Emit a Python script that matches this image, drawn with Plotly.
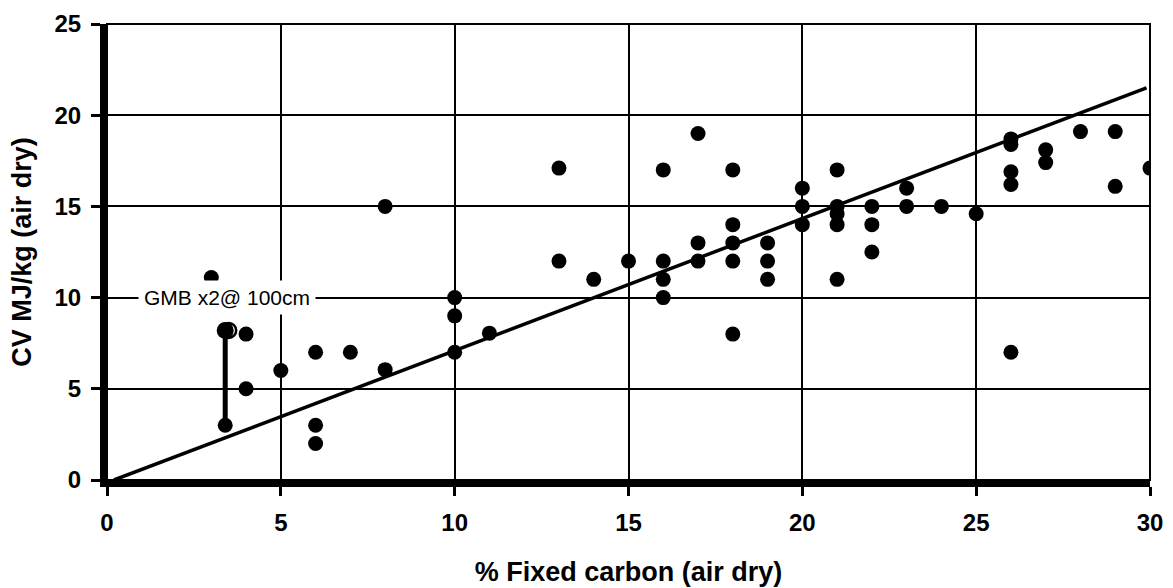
import plotly.graph_objects as go

# ---- data ----
fixed_carbon = [3.0, 3.4, 3.4, 4, 4, 5, 6, 6, 6, 7, 8, 8, 10, 10, 10, 11,
                13, 13, 14, 15, 16, 16, 16, 16, 17, 17, 17,
                18, 18, 18, 18, 18, 19, 19, 19, 20, 20, 20,
                21, 21, 21, 21, 21, 22, 22, 22, 23, 23, 24, 25,
                26, 26, 26, 26, 26, 27, 27, 28, 29, 29, 30]
cv_value = [11.1, 8.2, 3.0, 8.0, 5.0, 6.0, 7.0, 3.0, 2.0, 7.0, 6.05, 15.0, 10.0, 9.0, 7.0, 8.05,
            17.1, 12.0, 11.0, 12.0, 17.0, 12.0, 11.0, 10.0, 19.0, 13.0, 12.0,
            17.0, 14.0, 13.0, 12.0, 8.0, 13.0, 12.0, 11.0, 16.0, 15.0, 14.0,
            17.0, 15.0, 14.6, 14.0, 11.0, 15.0, 14.0, 12.5, 16.0, 15.0, 15.0, 14.6,
            18.7, 18.4, 16.9, 16.2, 7.0, 18.1, 17.4, 19.1, 19.1, 16.1, 17.1]

# GMB pair (x2 @ 100cm)
gmb_x = [3.4, 3.4]
gmb_y = [3.0, 8.2]
gmb_label = "GMB x2@ 100cm"

# fitted trend line
fit_slope = 0.724
fit_intercept = -0.145
fit_x = [0.2, 29.9]
fit_y = [fit_slope * v + fit_intercept for v in fit_x]

x_ticks = [0, 5, 10, 15, 20, 25, 30]
y_ticks = [0, 5, 10, 15, 20, 25]
x_title = "% Fixed carbon (air dry)"
y_title = "CV MJ/kg (air dry)"

FONT = "Liberation Sans, Arial, sans-serif"

fig = go.Figure()

fig.add_trace(go.Scatter(x=fit_x, y=fit_y, mode="lines",
                         line=dict(color="black", width=3.5),
                         hoverinfo="skip", showlegend=False))

fig.add_trace(go.Scatter(x=gmb_x, y=gmb_y, mode="lines",
                         line=dict(color="black", width=5),
                         hoverinfo="skip", showlegend=False))

fig.add_trace(go.Scatter(x=fixed_carbon, y=cv_value, mode="markers",
                         marker=dict(symbol="circle", size=15, color="black",
                                     line=dict(width=0)),
                         showlegend=False))

# the overlapping open circle at the top of the GMB pair
fig.add_trace(go.Scatter(x=[gmb_x[1]], y=[gmb_y[1]], mode="markers",
                         marker=dict(symbol="circle", size=17, color="black"),
                         showlegend=False))
fig.add_trace(go.Scatter(x=[gmb_x[1] + 0.1], y=[gmb_y[1]], mode="markers",
                         marker=dict(symbol="circle-open", size=15,
                                     color="black", line=dict(width=2.5)),
                         showlegend=False))

fig.add_annotation(x=3.46, y=10, text=gmb_label, showarrow=False,
                   font=dict(family=FONT, size=21, color="black"),
                   bgcolor="white", borderpad=5, xanchor="center", yanchor="middle")

# thin frame on top/right (gridline-like)
fig.add_shape(type="rect", xref="x domain", yref="y domain", x0=0, x1=1, y0=0, y1=1,
              line=dict(color="black", width=2), layer="below")

fig.update_xaxes(range=[0, 30], tickvals=x_ticks, ticktext=[str(v) for v in x_ticks],
                 showgrid=True, gridcolor="black", gridwidth=2, zeroline=False,
                 showline=True, linecolor="black", linewidth=7,
                 ticks="outside", ticklen=9, tickwidth=3, tickcolor="black",
                 ticklabelstandoff=6,
                 tickfont=dict(family=FONT, size=24, color="black", weight="bold"),
                 title=dict(text=x_title, standoff=30,
                            font=dict(family=FONT, size=27, color="black", weight="bold")))
fig.update_yaxes(range=[0, 25], tickvals=y_ticks, ticktext=[str(v) for v in y_ticks],
                 showgrid=True, gridcolor="black", gridwidth=2, zeroline=False,
                 showline=True, linecolor="black", linewidth=7,
                 ticks="outside", ticklen=9, tickwidth=3, tickcolor="black",
                 ticklabelstandoff=5,
                 tickfont=dict(family=FONT, size=24, color="black", weight="bold"),
                 title=dict(text=y_title, standoff=18,
                            font=dict(family=FONT, size=27, color="black", weight="bold")))

fig.update_layout(width=1173, height=588,
                  margin=dict(l=107, r=23, t=24, b=108, autoexpand=False),
                  paper_bgcolor="white", plot_bgcolor="white",
                  font=dict(family=FONT, color="black"))

fig.write_html("out.html", config={"displayModeBar": False},
               post_script="document.body.style.margin='0';")
